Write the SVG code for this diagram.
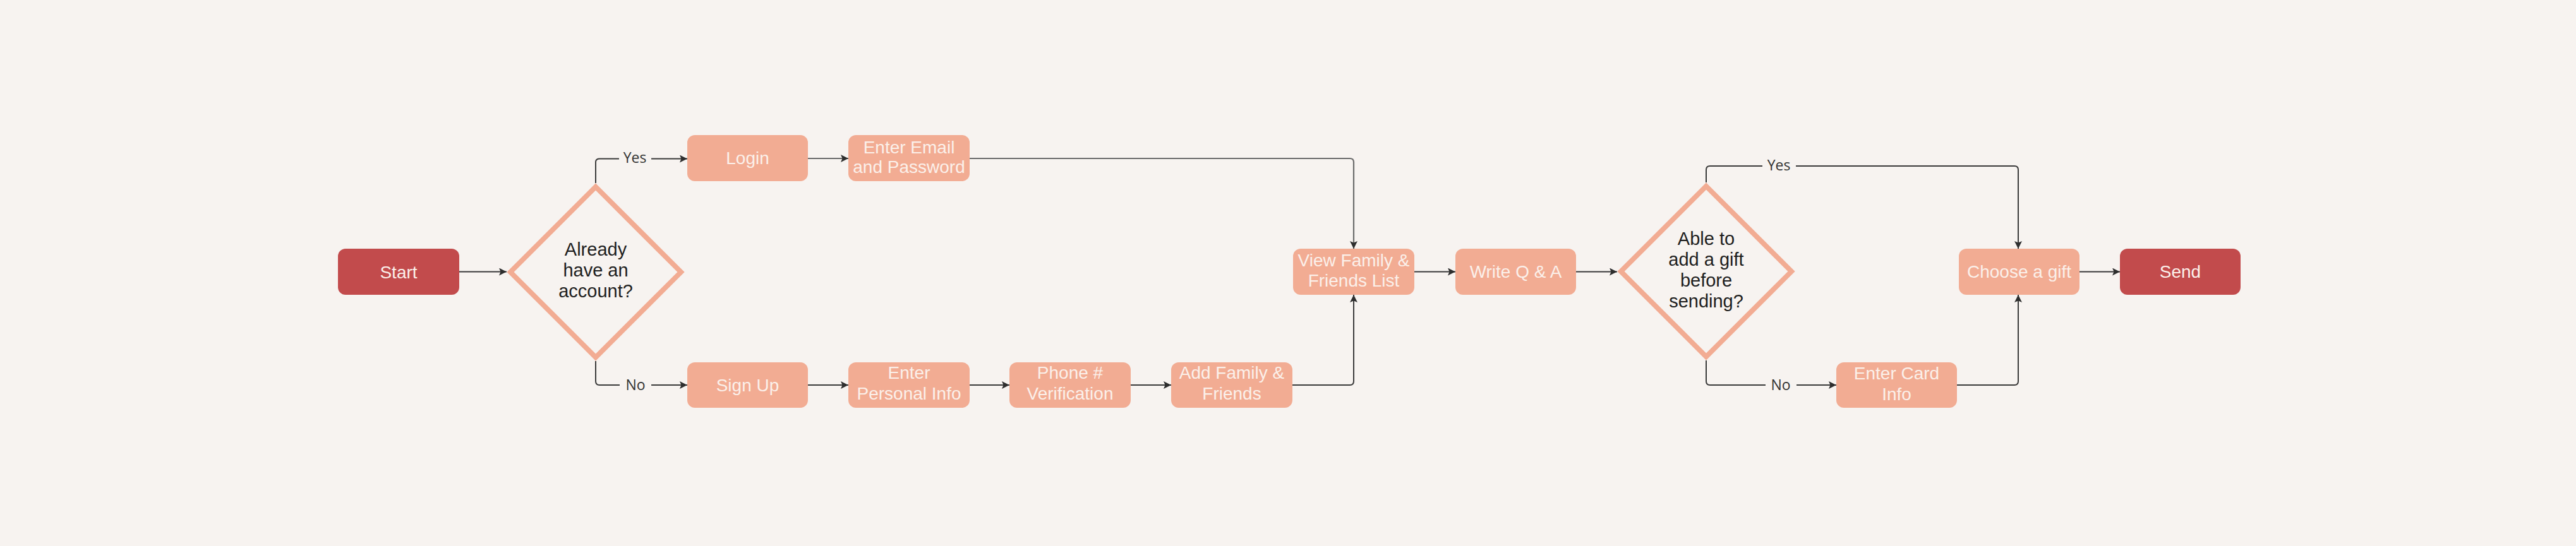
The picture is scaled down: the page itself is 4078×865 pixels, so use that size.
<svg xmlns="http://www.w3.org/2000/svg" width="4078" height="865" viewBox="0 0 4078 865">
<defs>
<style>
.box{fill:#F2AC93;}
.term{fill:#C24B4C;}
.dia{fill:#F7F3F0;stroke:#F2AC93;stroke-width:8;stroke-linejoin:miter;}
.bt{font-family:"Liberation Sans",Arial,sans-serif;font-size:28px;fill:#FBF0EA;text-anchor:middle;}
.dt{font-family:"Liberation Sans",Arial,sans-serif;font-size:29px;fill:#1E1E1E;text-anchor:middle;}
.lbl{font-family:"Open Sans","Liberation Sans",sans-serif;font-size:23px;fill:#333333;text-anchor:middle;}
.ln{fill:none;stroke:#3A3A3A;stroke-width:2;}
.lg{fill:none;stroke:#6B6B6B;stroke-width:2.2;}
</style>
<marker id="arr" viewBox="0 0 12 12" refX="12" refY="6" markerWidth="12" markerHeight="12" markerUnits="userSpaceOnUse" orient="auto">
<path d="M0,0 L12,6 L0,12 L2.5,6 Z" fill="#2E2E2E"/>
</marker>
</defs>
<rect x="0" y="0" width="4078" height="865" fill="#F7F3F0"/>

<g id="connectors">
<path class="ln" d="M727,430.5 H802" marker-end="url(#arr)"/>
<path class="ln" d="M943,290 V257 Q943,251.5 949,251.5 H980"/>
<path class="ln" d="M1031,251.5 H1088" marker-end="url(#arr)"/>
<text class="lbl" x="1005" y="258">Yes</text>
<path class="ln" d="M943,572 V604 Q943,610 949,610 H981"/>
<path class="ln" d="M1031,610 H1088" marker-end="url(#arr)"/>
<text class="lbl" x="1006" y="618">No</text>
<path class="lg" d="M1279,251 H1343" marker-end="url(#arr)"/>
<path class="lg" d="M1535,251 H2137 Q2143,251 2143,257 V394" marker-end="url(#arr)"/>
<path class="ln" d="M1279,610 H1343" marker-end="url(#arr)"/>
<path class="ln" d="M1535,610 H1598" marker-end="url(#arr)"/>
<path class="ln" d="M1790,610 H1854" marker-end="url(#arr)"/>
<path class="ln" d="M2046,610 H2137 Q2143,610 2143,604 V467" marker-end="url(#arr)"/>
<path class="ln" d="M2239,430.5 H2304" marker-end="url(#arr)"/>
<path class="ln" d="M2495,430.5 H2560" marker-end="url(#arr)"/>
<path class="ln" d="M2701,289 V269 Q2701,263 2707,263 H2790"/>
<path class="ln" d="M2843,263 H3189 Q3195,263 3195,269 V394" marker-end="url(#arr)"/>
<text class="lbl" x="2816" y="270">Yes</text>
<path class="ln" d="M2701,571 V604 Q2701,610 2707,610 H2795"/>
<path class="ln" d="M2844,610 H2907" marker-end="url(#arr)"/>
<text class="lbl" x="2819" y="618">No</text>
<path class="ln" d="M3098,610 H3189 Q3195,610 3195,604 V467" marker-end="url(#arr)"/>
<path class="ln" d="M3292,430.5 H3356" marker-end="url(#arr)"/>
</g>

<g id="start"><rect class="term" x="535" y="394" width="192" height="73" rx="12"/><text class="bt" x="631" y="440.5">Start</text></g>
<g id="decision-account"><path class="dia" d="M943,296 L1078,431 L943,566 L808,431 Z"/>
<text class="dt" x="943" y="405">Already</text><text class="dt" x="943" y="438">have an</text><text class="dt" x="943" y="471">account?</text></g>
<g id="login"><rect class="box" x="1088" y="214" width="191" height="73" rx="12"/><text class="bt" x="1183.5" y="260">Login</text></g>
<g id="email"><rect class="box" x="1343" y="214" width="192" height="73" rx="12"/><text class="bt" x="1439" y="243">Enter Email</text><text class="bt" x="1439" y="274">and Password</text></g>
<g id="signup"><rect class="box" x="1088" y="574" width="191" height="72" rx="12"/><text class="bt" x="1183.5" y="620">Sign Up</text></g>
<g id="personal"><rect class="box" x="1343" y="574" width="192" height="72" rx="12"/><text class="bt" x="1439" y="600">Enter</text><text class="bt" x="1439" y="633">Personal Info</text></g>
<g id="phone"><rect class="box" x="1598" y="574" width="192" height="72" rx="12"/><text class="bt" x="1694" y="600">Phone #</text><text class="bt" x="1694" y="633">Verification</text></g>
<g id="addfamily"><rect class="box" x="1854" y="574" width="192" height="72" rx="12"/><text class="bt" x="1950" y="600">Add Family &amp;</text><text class="bt" x="1950" y="633">Friends</text></g>
<g id="viewlist"><rect class="box" x="2047" y="394" width="192" height="73" rx="12"/><text class="bt" x="2143" y="422">View Family &amp;</text><text class="bt" x="2143" y="454">Friends List</text></g>
<g id="writeqa"><rect class="box" x="2304" y="394" width="191" height="73" rx="12"/><text class="bt" x="2399.5" y="440">Write Q &amp; A</text></g>
<g id="decision-gift"><path class="dia" d="M2701,295 L2836,430 L2701,565 L2566,430 Z"/>
<text class="dt" x="2701" y="388">Able to</text><text class="dt" x="2701" y="421">add a gift</text><text class="dt" x="2701" y="454">before</text><text class="dt" x="2701" y="487">sending?</text></g>
<g id="card"><rect class="box" x="2907" y="574" width="191" height="72" rx="12"/><text class="bt" x="3002.5" y="601">Enter Card</text><text class="bt" x="3002.5" y="634">Info</text></g>
<g id="choose"><rect class="box" x="3101" y="394" width="191" height="73" rx="12"/><text class="bt" x="3196.5" y="440">Choose a gift</text></g>
<g id="send"><rect class="term" x="3356" y="394" width="191" height="73" rx="12"/><text class="bt" x="3451.5" y="440">Send</text></g>
</svg>
